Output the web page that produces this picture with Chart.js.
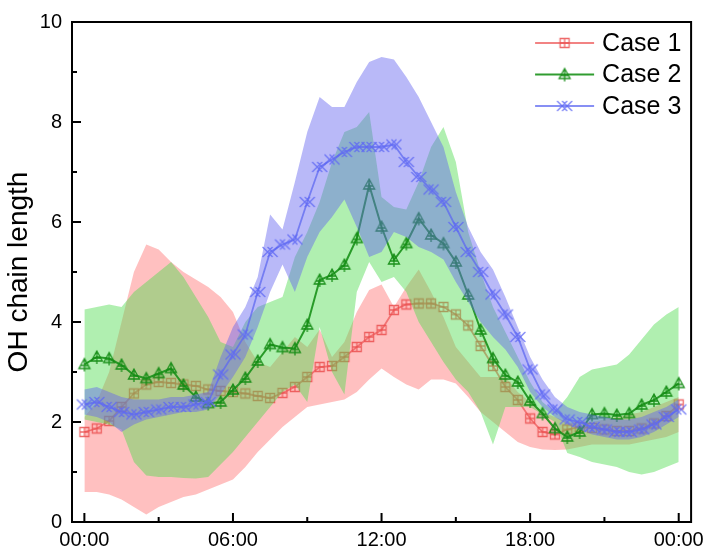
<!DOCTYPE html>
<html><head><meta charset="utf-8">
<script src="https://cdn.jsdelivr.net/npm/chart.js@4.4.1/dist/chart.umd.min.js"></script>
<style>html,body{margin:0;padding:0;background:#fff}canvas{display:block}</style>
</head><body>
<canvas id="c" width="710" height="554"></canvas>
<script>
// ---------- data ----------
const hours = [0,0.5,1,1.5,2,2.5,3,3.5,4,4.5,5,5.5,6,6.5,7,7.5,8,8.5,9,9.5,10,10.5,11,11.5,12,12.5,13,13.5,14,14.5,15,15.5,16,16.5,17,17.5,18,18.5,19,19.5,20,20.5,21,21.5,22,22.5,23,23.5,24];
const seriesNames = ['Case 1','Case 2','Case 3'];

const case1Mean  = [1.8,1.87,2.02,2.3,2.57,2.75,2.8,2.78,2.75,2.72,2.65,2.62,2.6,2.57,2.52,2.48,2.58,2.7,2.9,3.1,3.12,3.3,3.5,3.7,3.84,4.24,4.35,4.37,4.37,4.3,4.15,3.93,3.52,3.12,2.7,2.44,2.07,1.8,1.75,1.85,1.9,1.88,1.85,1.82,1.82,1.87,1.97,2.12,2.35];
const case1Upper = [2.1,2.4,3.0,4.0,5.0,5.55,5.45,5.2,5.0,4.85,4.7,4.5,4.2,3.6,3.2,3.1,3.4,3.7,3.5,3.85,3.3,3.6,4.2,4.64,4.75,4.3,4.7,5.05,4.6,4.1,3.5,3.2,2.9,2.9,2.9,2.6,2.4,2.2,2.1,2.0,1.95,2.0,2.05,2.1,2.15,2.2,2.3,2.4,2.5];
const case1Lower = [0.6,0.6,0.55,0.45,0.3,0.15,0.3,0.4,0.5,0.55,0.65,0.75,0.85,1.1,1.4,1.65,1.9,2.1,2.3,2.35,2.4,2.45,2.6,2.85,3.07,2.9,2.75,2.65,2.85,2.85,2.77,2.5,2.2,2.0,1.8,1.6,1.5,1.45,1.44,1.45,1.5,1.55,1.55,1.55,1.55,1.6,1.65,1.7,1.8];

const case2Mean  = [3.15,3.3,3.27,3.14,2.94,2.87,2.97,3.07,2.74,2.5,2.37,2.4,2.64,2.88,3.22,3.55,3.49,3.47,3.94,4.84,4.94,5.14,5.67,6.74,5.9,5.24,5.57,6.07,5.74,5.57,5.2,4.54,3.84,3.27,2.94,2.8,2.42,2.17,1.87,1.7,1.8,2.15,2.17,2.14,2.17,2.34,2.44,2.6,2.77];
const case2Upper = [4.25,4.3,4.35,4.3,4.6,4.8,5.0,5.2,4.9,4.5,4.1,3.6,3.5,4.0,4.3,4.4,4.5,5.3,5.8,6.4,7.2,7.8,7.9,8.2,6.5,6.3,6.25,6.8,7.5,7.9,7.2,5.8,5.0,4.3,3.8,3.3,2.8,2.4,2.2,2.5,2.9,3.05,3.1,3.15,3.35,3.65,3.95,4.15,4.3];
const case2Lower = [2.05,2.0,1.95,1.85,1.2,0.93,0.9,0.9,0.88,0.87,0.9,1.15,1.4,1.7,2.0,2.3,2.6,2.75,2.4,3.9,3.0,2.55,4.6,5.2,4.8,4.9,4.6,4.0,3.6,3.2,2.85,2.6,2.2,1.55,2.3,2.3,2.3,2.15,2.0,1.38,1.3,1.2,1.15,1.1,1.0,0.95,1.0,1.1,1.2];

const case3Mean  = [2.35,2.4,2.3,2.2,2.15,2.2,2.25,2.3,2.3,2.35,2.4,2.95,3.35,3.75,4.6,5.4,5.55,5.65,6.4,7.1,7.25,7.4,7.5,7.5,7.5,7.55,7.2,6.9,6.65,6.4,5.9,5.4,5.0,4.55,4.15,3.7,3.05,2.55,2.25,2.05,2.0,1.9,1.85,1.8,1.8,1.85,1.95,2.1,2.25];
const case3Upper = [2.65,2.7,2.6,2.5,2.45,2.45,2.45,2.5,2.5,2.55,2.6,3.3,3.9,4.3,4.9,6.15,5.85,6.8,7.8,8.5,8.3,8.3,8.8,9.2,9.3,9.25,8.9,8.5,8.0,7.5,6.6,5.9,5.4,5.05,4.5,3.9,3.3,2.85,2.5,2.3,2.2,2.15,2.1,2.05,2.05,2.1,2.2,2.3,2.45];
const case3Lower = [2.15,2.1,2.0,1.8,1.95,2.05,2.1,2.15,2.2,2.2,2.25,2.55,2.9,3.3,3.9,4.6,5.15,4.6,5.3,5.8,6.1,6.45,5.9,5.3,5.4,5.8,5.7,5.5,5.4,5.25,4.8,4.4,4.0,3.7,3.45,3.1,2.6,2.3,2.1,1.95,1.85,1.75,1.7,1.65,1.65,1.7,1.8,1.95,2.1];

const xMajorTicks = [0,6,12,18,24];
const xMinorTicks = [3,9,15,21];
const xTickLabels = ['00:00','06:00','12:00','18:00','00:00'];
const yMajorTicks = [0,2,4,6,8,10];
const yMinorTicks = [1,3,5,7,9];
const yTitle = 'OH chain length';

// ---------- styles ----------
const bandColors = ['rgba(255,80,80,0.36)','rgba(80,220,80,0.45)','rgba(100,100,240,0.45)'];
const lineColors = ['rgba(238,90,90,0.75)','rgba(25,145,25,0.9)','rgba(95,105,240,0.75)'];
const FONT = 'Arial, "Liberation Sans", sans-serif';

function makeMarker(kind, color){
  const c = document.createElement('canvas');
  c.width = 18; c.height = 18;
  const g = c.getContext('2d');
  g.strokeStyle = color; g.lineWidth = 1.3; g.lineCap='butt';
  const m = 9;
  g.beginPath();
  if (kind === 'sq') {
    g.rect(m-4.5, m-4.5, 9, 9);
    g.moveTo(m, m-4.5); g.lineTo(m, m+4.5);
    g.moveTo(m-4.5, m); g.lineTo(m+4.5, m);
  } else if (kind === 'tri') {
    g.moveTo(m, m-6); g.lineTo(m+5.5, m+4); g.lineTo(m-5.5, m+4); g.closePath();
    g.moveTo(m, m-6); g.lineTo(m, m+7);
    g.moveTo(m-4, m+1); g.lineTo(m+4, m+1);
  } else {
    for (const dx of [-2.5, 2.5]) {
      g.moveTo(m+dx-5, m-5); g.lineTo(m+dx+5, m+5);
      g.moveTo(m+dx+5, m-5); g.lineTo(m+dx-5, m+5);
    }
  }
  g.stroke();
  return c;
}
const markers = [
  makeMarker('sq', 'rgba(235,80,80,0.85)'),
  makeMarker('tri', 'rgba(20,140,20,0.95)'),
  makeMarker('x', 'rgba(95,105,245,0.85)')
];

const toPts = arr => hours.map((h,i)=>({x:h, y:arr[i]}));
const groups = [[case1Mean,case1Upper,case1Lower],[case2Mean,case2Upper,case2Lower],[case3Mean,case3Upper,case3Lower]];
const datasets = [];
groups.forEach((g, k) => {
  const base = datasets.length;
  datasets.push({label: seriesNames[k]+' upper', data: toPts(g[1]), borderWidth:0, pointRadius:0, backgroundColor: bandColors[k], fill: base+1, order: 20 - k*3});
  datasets.push({label: seriesNames[k]+' lower', data: toPts(g[2]), borderWidth:0, pointRadius:0, fill:false, order: 19 - k*3});
  datasets.push({label: seriesNames[k], data: toPts(g[0]), borderColor: lineColors[k], borderWidth: k===1?2:1.8, pointStyle: markers[k], pointRadius: 5, fill:false, order: 18 - k*3});
});

const frameTicks = {
  id: 'frameTicks',
  afterDatasetsDraw(chart){
    const {ctx, chartArea:a, scales:{x, y}} = chart;
    ctx.save();
    ctx.strokeStyle = '#000';
    ctx.lineWidth = 2;
    ctx.beginPath();
    const tick = (x1,y1,x2,y2)=>{ctx.moveTo(x1,y1);ctx.lineTo(x2,y2);};
    xMajorTicks.forEach(v=>{const p=x.getPixelForValue(v); tick(p,a.bottom,p,a.bottom-9);});
    xMinorTicks.forEach(v=>{const p=x.getPixelForValue(v); tick(p,a.bottom,p,a.bottom-5);});
    yMajorTicks.forEach(v=>{const p=y.getPixelForValue(v); tick(a.left,p,a.left+9,p);});
    yMinorTicks.forEach(v=>{const p=y.getPixelForValue(v); tick(a.left,p,a.left+5,p);});
    ctx.stroke();
    ctx.strokeRect(a.left, a.top, a.right-a.left, a.bottom-a.top);
    ctx.restore();
  },
  afterDraw(chart){
    const {ctx, chartArea:a} = chart;
    ctx.save();
    const x0 = a.right - 156, x1 = a.right - 97;
    seriesNames.forEach((name,i)=>{
      const yy = a.top + 21 + i*31.5;
      ctx.strokeStyle = lineColors[i]; ctx.lineWidth = 1.8;
      ctx.beginPath(); ctx.moveTo(x0, yy); ctx.lineTo(x1, yy); ctx.stroke();
      const mk = markers[i];
      ctx.drawImage(mk, (x0+x1)/2 - mk.width/2, yy - mk.height/2);
      ctx.fillStyle = '#000';
      ctx.font = '25px ' + FONT;
      ctx.textBaseline = 'middle';
      ctx.fillText(name, x1 + 8, yy + 1);
    });
    ctx.restore();
  }
};

new Chart(document.getElementById('c'), {
  type: 'line',
  data: { datasets },
  options: {
    responsive: false,
    animation: false,
    layout: { padding: { top: 21, right: 13, left: 0, bottom: 0 } },
    plugins: { legend: { display: false }, tooltip: { enabled: false } },
    elements: { line: { tension: 0 } },
    scales: {
      x: {
        type: 'linear', min: -0.5, max: 24.5,
        afterBuildTicks: s => { s.ticks = xMajorTicks.map(v=>({value:v})); },
        afterFit: s => { s.height = 32; },
        grid: { display: false, drawTicks: false },
        border: { display: false },
        ticks: { padding: 6, color: '#000', font: { size: 20, family: FONT }, maxRotation: 0,
          callback: (v) => xTickLabels[xMajorTicks.indexOf(v)] }
      },
      y: {
        min: 0, max: 10,
        afterBuildTicks: s => { s.ticks = yMajorTicks.map(v=>({value:v})); },
        afterFit: s => { s.width = 72; },
        grid: { display: false, drawTicks: false },
        border: { display: false },
        ticks: { padding: 10, color: '#000', font: { size: 20, family: FONT } },
        title: { display: true, text: yTitle, color: '#000', font: { size: 28, family: FONT }, padding: { top: 2, bottom: 0 } }
      }
    }
  },
  plugins: [frameTicks]
});
</script>
</body></html>
